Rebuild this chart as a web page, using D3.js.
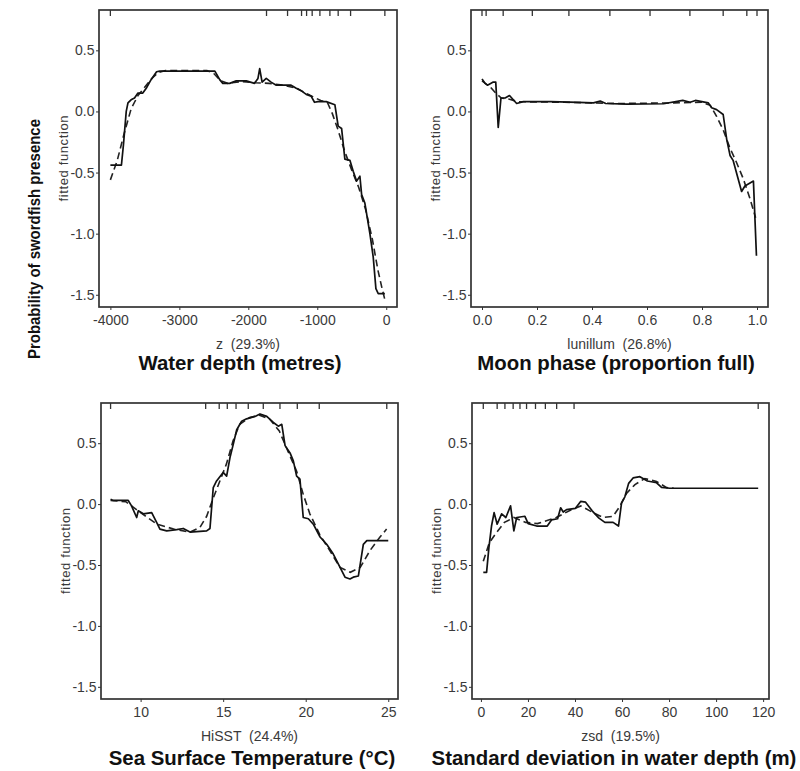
<!DOCTYPE html>
<html>
<head>
<meta charset="utf-8">
<script src="https://cdnjs.cloudflare.com/ajax/libs/d3/7.8.5/d3.min.js"></script>
<style>
  body { margin: 0; background: #fff; }
  text { font-family: "Liberation Sans", Arial, sans-serif; }
  .tick text { font-size: 14px; fill: #3a3a3a; }
  .tick line { stroke: #333; }
  .xname { font-size: 14px; fill: #3a3a3a; }
  .yname { font-size: 13px; fill: #3a3a3a; }
  .title { font-size: 20.4px; font-weight: bold; fill: #111; }
  .bigLabel { font-size: 16.5px; font-weight: bold; fill: #111; }
</style>
</head>
<body>
<div id="chart"></div>
<script>
//////////////////////////////////////////////////////////////
//////////////////////////// Data ////////////////////////////
//////////////////////////////////////////////////////////////

// Water depth (z)
var depthSolid = [[-4000,-0.44],[-3840,-0.44],[-3810,-0.27],[-3770,0.0],[-3745,0.07],[-3700,0.095],[-3650,0.11],
  [-3600,0.15],[-3530,0.15],[-3480,0.19],[-3410,0.26],[-3330,0.325],[-3285,0.33],[-2485,0.33],[-2415,0.26],
  [-2370,0.23],[-2270,0.23],[-2175,0.25],[-2030,0.25],[-1910,0.23],[-1860,0.27],[-1835,0.35],[-1800,0.24],
  [-1740,0.27],[-1670,0.24],[-1595,0.215],[-1380,0.215],[-1305,0.19],[-1235,0.17],[-1160,0.14],[-1090,0.125],
  [-1040,0.075],[-990,0.08],[-870,0.08],[-745,0.055],[-697,-0.12],[-647,-0.14],[-600,-0.39],[-527,-0.40],
  [-479,-0.49],[-430,-0.57],[-382,-0.53],[-357,-0.68],[-310,-0.75],[-237,-1.0],[-189,-1.19],[-150,-1.45],
  [-116,-1.49],[-20,-1.49]];
var depthDashed = [[-4000,-0.56],[-3900,-0.40],[-3800,-0.18],[-3700,0.02],[-3600,0.13],[-3500,0.2],[-3400,0.27],
  [-3300,0.32],[-3200,0.335],[-2600,0.335],[-2500,0.31],[-2400,0.25],[-2300,0.23],[-2100,0.245],[-1900,0.235],
  [-1700,0.23],[-1500,0.215],[-1300,0.19],[-1100,0.13],[-950,0.09],[-850,0.07],[-780,-0.02],[-700,-0.15],
  [-600,-0.33],[-500,-0.48],[-400,-0.62],[-300,-0.8],[-200,-1.05],[-120,-1.3],[-60,-1.45],[-20,-1.54]];
var depthRug = [-4000,-1736,-1431,-1228,-1155,-1074,-962,-817,-697,-517,-20];
var depthTicks = [-4000,-3000,-2000,-1000,0];

// Moon phase (lunillum)
var moonSolid = [[0.0,0.265],[0.011,0.23],[0.02,0.215],[0.041,0.24],[0.05,0.24],[0.059,-0.13],[0.069,0.11],
  [0.084,0.11],[0.1,0.13],[0.126,0.065],[0.15,0.08],[0.25,0.08],[0.35,0.075],[0.405,0.07],[0.43,0.085],
  [0.45,0.065],[0.526,0.06],[0.66,0.063],[0.73,0.09],[0.757,0.075],[0.776,0.09],[0.823,0.07],[0.835,0.03],
  [0.853,0.015],[0.877,-0.025],[0.89,-0.23],[0.902,-0.36],[0.913,-0.4],[0.944,-0.655],[0.956,-0.61],
  [0.987,-0.57],[0.998,-1.18]];
var moonDashed = [[0.0,0.25],[0.03,0.2],[0.05,0.15],[0.07,0.11],[0.1,0.1],[0.13,0.08],[0.3,0.075],[0.5,0.065],
  [0.7,0.07],[0.8,0.075],[0.83,0.05],[0.853,-0.04],[0.877,-0.15],[0.9,-0.29],[0.926,-0.42],[0.95,-0.55],
  [0.974,-0.71],[0.995,-0.87]];
var moonRug = [0.0,0.015,0.077,0.183,0.316,0.465,0.611,0.756,0.877,0.963,1.0];
var moonTicks = [0,0.2,0.4,0.6,0.8,1.0];

// Sea surface temperature (HiSST)
var sstSolid = [[8.18,0.04],[8.34,0.03],[9.25,0.03],[9.45,-0.015],[9.76,-0.11],[9.86,-0.055],[10.16,-0.08],
  [10.67,-0.07],[10.97,-0.15],[11.17,-0.205],[11.58,-0.22],[12.18,-0.21],[12.58,-0.2],[12.99,-0.23],
  [14.0,-0.22],[14.2,-0.2],[14.4,0.136],[14.6,0.19],[15.0,0.26],[15.21,0.23],[15.41,0.38],[15.61,0.49],
  [15.82,0.61],[16.12,0.68],[16.42,0.70],[16.93,0.72],[17.23,0.74],[17.64,0.72],[18.04,0.67],[18.34,0.64],
  [18.55,0.655],[18.75,0.48],[19.05,0.42],[19.25,0.355],[19.45,0.23],[19.65,0.205],[19.85,-0.11],
  [20.16,-0.12],[20.46,-0.165],[20.87,-0.27],[21.27,-0.33],[21.67,-0.41],[22.08,-0.52],[22.38,-0.60],
  [22.68,-0.615],[22.88,-0.60],[23.19,-0.59],[23.49,-0.33],[23.7,-0.30],[25.0,-0.30]];
var sstDashed = [[8.18,0.03],[9.1,0.02],[10.0,-0.07],[11.0,-0.165],[12.0,-0.205],[13.0,-0.23],[13.6,-0.19],
  [14.0,-0.10],[14.4,0.05],[14.8,0.19],[15.2,0.33],[15.6,0.52],[16.0,0.655],[16.6,0.71],[17.2,0.73],
  [17.8,0.70],[18.4,0.60],[19.0,0.41],[19.45,0.27],[19.85,0.08],[20.25,-0.08],[20.85,-0.25],[21.45,-0.38],
  [22.08,-0.52],[22.7,-0.56],[23.3,-0.52],[23.9,-0.38],[24.5,-0.27],[24.9,-0.205]];
var sstRug = [8.18,13.94,14.76,15.25,15.78,16.52,17.43,18.44,19.49,20.82,24.91];
var sstTicks = [10,15,20,25];

// Standard deviation in depth (zsd)
var zsdSolid = [[1.0,-0.56],[2.4,-0.56],[3.4,-0.355],[4.5,-0.18],[5.6,-0.07],[6.9,-0.165],[8.8,-0.08],
  [10.6,-0.11],[12.6,-0.014],[14.0,-0.22],[15.2,-0.11],[18.7,-0.1],[20.1,-0.16],[23.7,-0.18],[28.2,-0.18],
  [30.0,-0.13],[32.6,-0.12],[33.9,-0.03],[35.0,-0.065],[36.4,-0.045],[40.2,-0.035],[42.4,0.022],[44.5,0.016],
  [47.3,-0.055],[50.2,-0.115],[52.7,-0.15],[56.2,-0.15],[58.5,-0.18],[59.8,0.01],[61.2,0.06],[62.8,0.17],
  [64.7,0.215],[67.6,0.225],[70.8,0.19],[74.7,0.175],[76.8,0.137],[80.3,0.13],[117.9,0.13]];
var zsdDashed = [[1.0,-0.47],[3.5,-0.32],[6.0,-0.25],[10.0,-0.15],[14.0,-0.11],[19.0,-0.15],[24.0,-0.16],
  [32.0,-0.11],[38.0,-0.05],[42.5,-0.015],[47.7,-0.07],[52.0,-0.11],[56.2,-0.1],[59.0,-0.02],[62.0,0.09],
  [65.5,0.16],[69.7,0.21],[74.7,0.185],[79.0,0.135],[82.0,0.13]];
var zsdRug = [1.0,6.9,10.2,13.7,16.6,19.4,23.2,27.4,32.2,39.6,117.9];
var zsdTicks = [0,20,40,60,80,100,120];

var yTicks = [-1.5,-1.0,-0.5,0.0,0.5];
var xNames = ["z  (29.3%)", "lunillum  (26.8%)", "HiSST  (24.4%)", "zsd  (19.5%)"];
var titles = ["Water depth (metres)", "Moon phase (proportion full)",
  "Sea Surface Temperature (\u00B0C)", "Standard deviation in water depth (m)"];

//////////////////////////////////////////////////////////////
/////////////////////////// Layout ///////////////////////////
//////////////////////////////////////////////////////////////

var width = 800, height = 771;

var svg = d3.select("#chart").append("svg")
  .attr("width", width)
  .attr("height", height);

var panels = [
  {solid: depthSolid, dashed: depthDashed, rug: depthRug, ticks: depthTicks, fmt: function(d) { return d; },
   xDomain: [-4165, 156], box: [99, 10, 397, 307], titleX: 240, titleY: 370, nameY: 349},
  {solid: moonSolid, dashed: moonDashed, rug: moonRug, ticks: moonTicks, fmt: function(d) { return d.toFixed(1); },
   xDomain: [-0.04, 1.04], box: [471, 10, 768, 307], titleX: 616, titleY: 370, nameY: 349},
  {solid: sstSolid, dashed: sstDashed, rug: sstRug, ticks: sstTicks, fmt: function(d) { return d; },
   xDomain: [7.6, 25.59], box: [101, 403, 398, 699], titleX: 252, titleY: 765, nameY: 741},
  {solid: zsdSolid, dashed: zsdDashed, rug: zsdRug, ticks: zsdTicks, fmt: function(d) { return d; },
   xDomain: [-3.8, 122.5], box: [472, 403, 769, 699], titleX: 614, titleY: 765, nameY: 741}
];

panels.forEach(function(p, i) {
  var x0 = p.box[0], y0 = p.box[1], x1 = p.box[2], y1 = p.box[3];

  var x = d3.scaleLinear().domain(p.xDomain).range([x0, x1]);
  var y = d3.scaleLinear().domain([-1.60, 0.83]).range([y1, y0]);

  var g = svg.append("g").attr("class", "panel");

  //Axes
  var xAxis = g.append("g")
    .attr("transform", "translate(0," + y1 + ")")
    .call(d3.axisBottom(x).tickValues(p.ticks).tickFormat(p.fmt).tickSize(3).tickPadding(5));
  xAxis.select(".domain").remove();

  var yAxis = g.append("g")
    .attr("transform", "translate(" + x0 + ",0)")
    .call(d3.axisLeft(y).tickValues(yTicks).tickFormat(function(d) { return d.toFixed(1); }).tickSize(3).tickPadding(1.5));
  yAxis.select(".domain").remove();

  //Rug of deciles along the top
  g.selectAll(".rug")
    .data(p.rug)
    .enter().append("line")
    .attr("class", "rug")
    .attr("x1", function(d) { return x(d); })
    .attr("x2", function(d) { return x(d); })
    .attr("y1", y0)
    .attr("y2", y0 + 6)
    .style("stroke", "#333")
    .style("stroke-width", 1.3);

  var line = d3.line()
    .x(function(d) { return x(d[0]); })
    .y(function(d) { return y(d[1]); });

  g.append("path")
    .datum(p.dashed)
    .attr("d", line)
    .style("fill", "none")
    .style("stroke", "#222")
    .style("stroke-width", 1.6)
    .style("stroke-dasharray", "7,4");

  g.append("path")
    .datum(p.solid)
    .attr("d", line)
    .style("fill", "none")
    .style("stroke", "#111")
    .style("stroke-width", 1.7)
    .style("stroke-linejoin", "round");

  //Frame
  g.append("rect")
    .attr("x", x0)
    .attr("y", y0)
    .attr("width", x1 - x0)
    .attr("height", y1 - y0)
    .style("fill", "none")
    .style("stroke", "#333")
    .style("stroke-width", 1.7);

  //Labels
  g.append("text")
    .attr("class", "xname")
    .attr("x", (x0 + x1) / 2)
    .attr("y", p.nameY)
    .style("text-anchor", "middle")
    .style("white-space", "pre")
    .text(xNames[i]);

  g.append("text")
    .attr("class", "yname")
    .attr("transform", "translate(" + (x0 - 31) + "," + ((y0 + y1) / 2) + ") rotate(-90)")
    .style("text-anchor", "middle")
    .attr("textLength", 86)
    .text("fitted function");

  g.append("text")
    .attr("class", "title")
    .attr("x", p.titleX)
    .attr("y", p.titleY)
    .style("text-anchor", "middle")
    .text(titles[i]);
});

svg.append("text")
  .attr("class", "bigLabel")
  .attr("transform", "translate(40,239) rotate(-90)")
  .style("text-anchor", "middle")
  .attr("textLength", 240)
  .attr("lengthAdjust", "spacingAndGlyphs")
  .text("Probability of swordfish presence");
</script>
</body>
</html>
